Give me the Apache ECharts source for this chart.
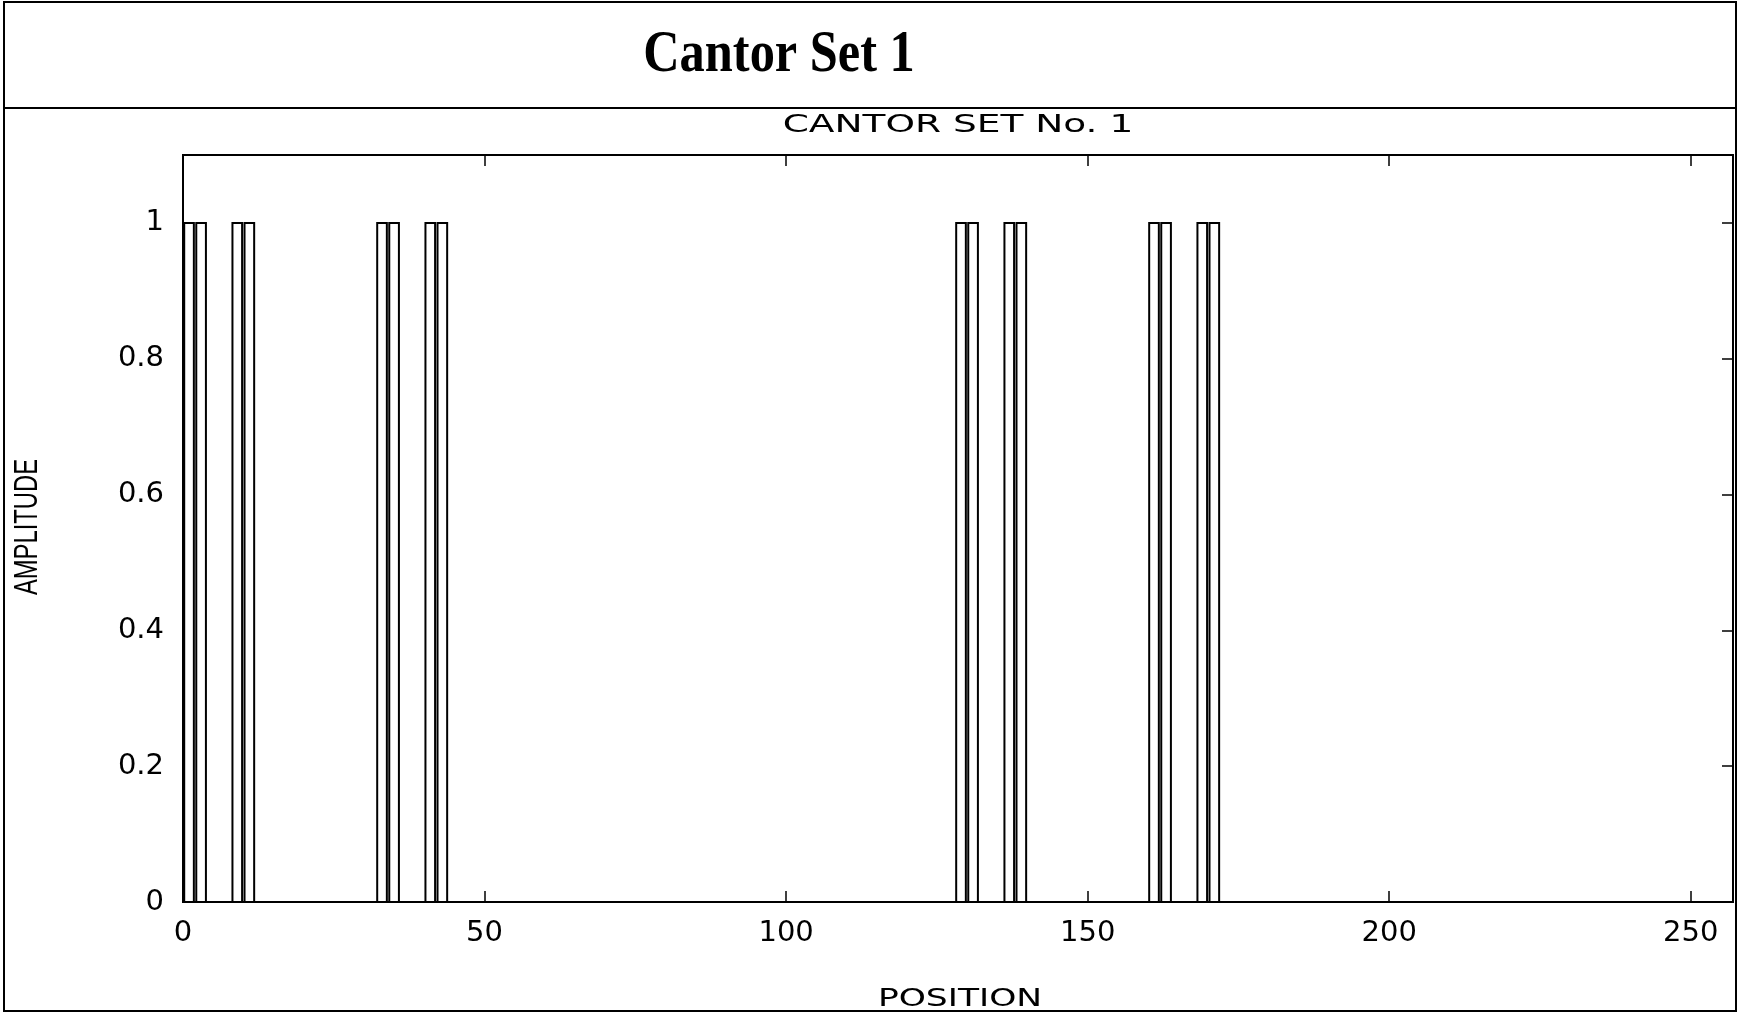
<!DOCTYPE html>
<html>
<head>
<meta charset="utf-8">
<title>Cantor Set 1</title>
<script src="https://cdn.jsdelivr.net/npm/echarts@6/dist/echarts.min.js"></script>
<style>
  html, body { margin: 0; padding: 0; background: #fff; overflow: hidden; }
  #chart { width: 1740px; height: 1020px; }
</style>
</head>
<body>
<div id="chart"></div>
<script>
// Cantor set No. 1: sample positions carrying unit amplitude
const positions = [1, 3, 9, 11, 33, 35, 41, 43, 129, 131, 137, 139, 161, 163, 169, 171];
const amplitudes = [1, 1, 1, 1, 1, 1, 1, 1, 1, 1, 1, 1, 1, 1, 1, 1];

// axis tick labels
const xTickLabels = [0, 50, 100, 150, 200, 250];
const yTickLabels = [0, 0.2, 0.4, 0.6, 0.8, 1];

// text
const mainTitle = 'Cantor Set 1';
const plotTitle = 'CANTOR SET No. 1';
const xName = 'POSITION';
const yName = 'AMPLITUDE';

const BAR_HALF_WIDTH = 0.8;   // bar half-width in position units
const INK = '#000';
const LABEL_FONT = 'DejaVu Sans';

const chart = echarts.init(document.getElementById('chart'), null, { renderer: 'canvas' });
const W = chart.getWidth();
const H = chart.getHeight();

function near(list, v) {
  return list.some(t => Math.abs(t - v) < 1e-9);
}

const sharedX = { type: 'value', min: 0, max: 257, interval: 50 };
const sharedY = { type: 'value', min: 0, max: 1.1, interval: 0.2 };

const axisLine = { show: true, onZero: false, lineStyle: { color: INK, width: 2 } };
const axisTick = { show: true, inside: true, length: 11, lineStyle: { color: INK, width: 1.5 } };

const option = {
  backgroundColor: '#fff',
  animation: false,
  grid: {
    left: 183, top: 155, right: 7, bottom: 118,
    show: true, borderColor: INK, borderWidth: 2, backgroundColor: '#fff'
  },
  xAxis: [
    Object.assign({}, sharedX, {
      position: 'bottom',
      axisLine, axisTick,
      splitLine: { show: false },
      axisLabel: {
        color: INK, fontFamily: LABEL_FONT, fontSize: 29, margin: 17,
        showMaxLabel: false,
        formatter: v => near(xTickLabels, v) ? String(v) : ''
      }
    }),
    Object.assign({}, sharedX, {
      position: 'top',
      axisLine, axisTick,
      splitLine: { show: false },
      axisLabel: { show: false }
    })
  ],
  yAxis: [
    Object.assign({}, sharedY, {
      position: 'left',
      axisLine, axisTick,
      splitLine: { show: false },
      axisLabel: {
        color: INK, fontFamily: LABEL_FONT, fontSize: 29, margin: 19,
        showMaxLabel: false,
        formatter: v => near(yTickLabels, v) ? String(+v.toFixed(1)) : ''
      }
    }),
    Object.assign({}, sharedY, {
      position: 'right',
      axisLine, axisTick,
      splitLine: { show: false },
      axisLabel: { show: false }
    })
  ],
  series: [{
    type: 'custom',
    xAxisIndex: 0,
    yAxisIndex: 0,
    clip: true,
    data: positions.map((p, i) => [p, amplitudes[i]]),
    encode: { x: 0, y: 1 },
    renderItem: function (params, api) {
      const x = api.value(0);
      const y = api.value(1);
      const topLeft = api.coord([x - BAR_HALF_WIDTH, y]);
      const bottomRight = api.coord([x + BAR_HALF_WIDTH, 0]);
      return {
        type: 'rect',
        shape: {
          x: topLeft[0],
          y: topLeft[1],
          width: bottomRight[0] - topLeft[0],
          height: bottomRight[1] - topLeft[1]
        },
        style: { fill: '#fff', stroke: INK, lineWidth: 2 }
      };
    }
  }]
};

chart.setOption(option);

// frame, header and axis captions, placed from the laid-out grid
const axisBottomY = chart.convertToPixel({ yAxisIndex: 0 }, 0);
const axisLeftX = chart.convertToPixel({ xAxisIndex: 0 }, 0);

chart.setOption({
  graphic: [
    {
      type: 'rect', z: 100, silent: true,
      shape: { x: 4, y: 2, width: W - 8, height: H - 11 },
      style: { fill: 'none', stroke: INK, lineWidth: 2 }
    },
    {
      type: 'line', z: 100, silent: true,
      shape: { x1: 4, y1: 108, x2: W - 4, y2: 108 },
      style: { stroke: INK, lineWidth: 2 }
    },
    {
      type: 'text', z: 100, silent: true,
      x: 779, y: 55, scaleX: 0.84,
      style: {
        text: mainTitle, font: 'bold 60px "Liberation Serif", "Times New Roman", serif',
        fill: INK, align: 'center', verticalAlign: 'middle',
        textAlign: 'center', textVerticalAlign: 'middle'
      }
    },
    {
      type: 'text', z: 100, silent: true,
      x: 958, y: 125, scaleX: 1.5,
      style: {
        text: plotTitle, font: '25px "DejaVu Sans", sans-serif',
        fill: INK, align: 'center', verticalAlign: 'middle',
        textAlign: 'center', textVerticalAlign: 'middle'
      }
    },
    {
      type: 'text', z: 100, silent: true,
      x: 960, y: axisBottomY + 97, scaleX: 1.38,
      style: {
        text: xName, font: '25px "DejaVu Sans", sans-serif',
        fill: INK, align: 'center', verticalAlign: 'middle',
        textAlign: 'center', textVerticalAlign: 'middle'
      }
    },
    {
      type: 'text', z: 100, silent: true,
      x: axisLeftX - 155, y: 527, rotation: Math.PI / 2, scaleX: 0.7,
      style: {
        text: yName, font: '34px "Liberation Sans", sans-serif',
        fill: INK, align: 'center', verticalAlign: 'middle',
        textAlign: 'center', textVerticalAlign: 'middle'
      }
    }
  ]
});
</script>
</body>
</html>
